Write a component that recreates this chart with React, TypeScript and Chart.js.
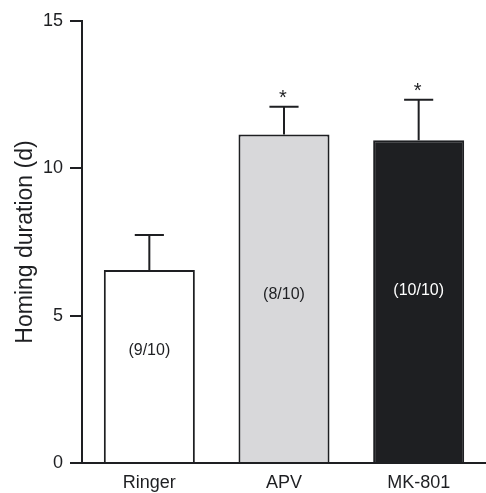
import React, { useEffect, useRef } from "react";
import { Chart, registerables } from "chart.js";

Chart.register(...registerables);

const categories = ["Ringer", "APV", "MK-801"];
const meanValues = [6.55, 11.15, 10.95];
const upperErrors = [1.19, 0.94, 1.38];
const sampleLabels = ["(9/10)", "(8/10)", "(10/10)"];
const sampleLabelAt = [3.8, 5.7, 5.85];
const significance = ["", "*", "*"];
const yTicks = [0, 5, 10, 15];

const FONT = "'Liberation Sans', Arial, Helvetica, sans-serif";
const INK = "#1e1f22";

const annotatePlugin = {
  id: "annotate",
  afterDatasetsDraw(chart: any) {
    const ctx = chart.ctx;
    const meta = chart.getDatasetMeta(0);
    const y = chart.scales.y;
    ctx.save();
    meta.data.forEach((bar: any, i: number) => {
      const top = y.getPixelForValue(meanValues[i] + upperErrors[i]);
      const capHalf = bar.width * 0.16;
      ctx.strokeStyle = INK;
      ctx.lineWidth = 2;
      ctx.beginPath();
      ctx.moveTo(bar.x, bar.y);
      ctx.lineTo(bar.x, top);
      ctx.moveTo(bar.x - capHalf, top);
      ctx.lineTo(bar.x + capHalf, top);
      ctx.stroke();
      if (significance[i]) {
        ctx.fillStyle = INK;
        ctx.font = `20px ${FONT}`;
        ctx.textAlign = "center";
        ctx.textBaseline = "alphabetic";
        ctx.fillText(significance[i], bar.x - 1, top - 3);
      }
      ctx.fillStyle = i === 2 ? "#ffffff" : INK;
      ctx.font = `16px ${FONT}`;
      ctx.textAlign = "center";
      ctx.textBaseline = "middle";
      ctx.fillText(sampleLabels[i], bar.x, y.getPixelForValue(sampleLabelAt[i]));
    });
    ctx.restore();
  },
};

export default function App() {
  const ref = useRef<HTMLCanvasElement | null>(null);
  useEffect(() => {
    if (!ref.current) return;
    const chart = new Chart(ref.current, {
      type: "bar",
      data: {
        labels: categories,
        datasets: [
          {
            data: meanValues,
            backgroundColor: ["#ffffff", "#d8d8da", INK],
            borderColor: INK,
            borderWidth: 2,
            barPercentage: 0.676,
            categoryPercentage: 1,
          },
        ],
      },
      options: {
        animation: false,
        responsive: false,
        layout: { padding: { top: 21, right: 0, bottom: 0, left: 0 } },
        plugins: { legend: { display: false }, tooltip: { enabled: false } },
        scales: {
          x: {
            grid: { display: false, drawTicks: false },
            border: { display: true, color: INK, width: 2, z: 1 },
            ticks: { color: INK, font: { family: FONT, size: 18 }, padding: 9 },
            afterFit: (s: any) => {
              s.height = 30;
            },
          },
          y: {
            min: 0,
            max: 15,
            afterBuildTicks: (s: any) => {
              s.ticks = yTicks.map((v) => ({ value: v }));
            },
            grid: {
              display: true,
              drawOnChartArea: false,
              drawTicks: true,
              tickLength: 12,
              color: INK,
              lineWidth: 2,
            },
            border: { display: true, color: INK, width: 2 },
            ticks: { color: INK, font: { family: FONT, size: 18 }, padding: 7 },
            title: {
              display: true,
              text: "Homing duration (d)",
              color: INK,
              font: { family: FONT, size: 23 },
              padding: { top: 12, bottom: 0 },
            },
            afterFit: (s: any) => {
              s.width = 82;
            },
          },
        },
      },
      plugins: [annotatePlugin],
    });
    return () => chart.destroy();
  }, []);
  return (
    <div style={{ position: "absolute", left: 0, top: 0, width: 486, height: 493 }}>
      <canvas ref={ref} width={486} height={493} />
    </div>
  );
}
